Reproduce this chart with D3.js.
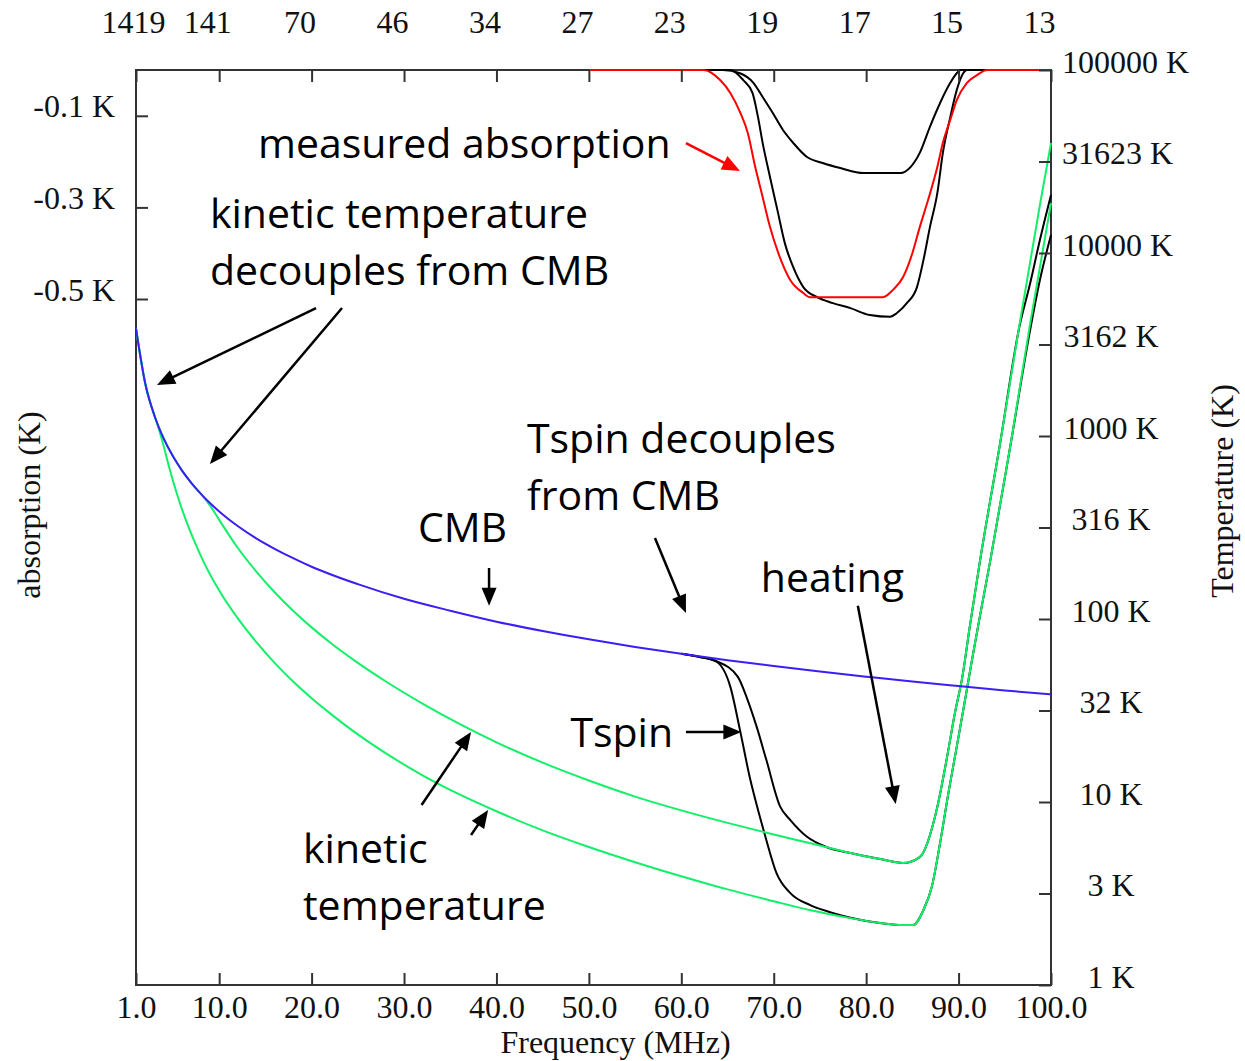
<!DOCTYPE html>
<html>
<head>
<meta charset="utf-8">
<script src="https://cdn.jsdelivr.net/npm/d3@7"></script>
<style>
  body { margin: 0; background: #fff; }
  svg { display: block; }
  .ax { font-family: "Liberation Serif", "Times New Roman", serif; font-size: 32px; fill: #111; }
  .note { font-family: "Open Sans", "Noto Sans", sans-serif; font-size: 41px; fill: #000; }
</style>
</head>
<body>
<svg id="chart" width="1245" height="1061"></svg>
<script>
// ---- axis ticks -------------------------------------------------------
const freqTicks = [1, 10, 20, 30, 40, 50, 60, 70, 80, 90, 100];
const redshiftLabels = ["1419", "141", "70", "46", "34", "27", "23", "19", "17", "15", "13"];
const absorptionTicks = [-0.1, -0.3, -0.5];
const tempTicks = [1, 3.1623, 10, 31.623, 100, 316.23, 1000, 3162.3, 10000, 31623, 100000];
const tempLabels = ["1 K", "3 K", "10 K", "32 K", "100 K", "316 K", "1000 K", "3162 K", "10000 K", "31623 K", "100000 K"];

// ---- CMB temperature (K) vs frequency (MHz) ---------------------------
const cmbFreq = [1, 2, 3, 4, 5, 6, 7, 8, 9, 10, 12, 14, 16, 18, 20, 25, 30, 35, 40, 45, 50, 55, 60, 65, 70, 75, 80, 85, 90, 95, 100];
const cmbTemp = [3870, 1935, 1290, 967, 774, 645, 553, 484, 430, 387, 322, 276, 242, 215, 193, 155, 129, 111, 96.7, 86, 77.4, 70.4, 64.5, 59.5, 55.3, 51.6, 48.4, 45.5, 43, 40.7, 38.7];

// ---- gas kinetic temperature, late decoupling ---------------------------
const kin1Freq = [1, 2, 3, 4, 5, 6, 7, 8, 9, 10, 12, 14, 16, 18, 20, 22, 25, 28, 32, 36, 40, 45, 50, 55, 60, 65, 70, 75, 78.3, 81.5, 84, 85.8, 87.7, 88.7, 89.6, 90.4, 91.2, 92.3, 94.5, 96.6, 98.8, 100];
const kin1Temp = [3870, 1935, 1290, 967, 774, 645, 553, 484, 418, 348, 245, 182, 140, 111, 90, 74.4, 57.6, 45.7, 34.5, 26.7, 21.2, 16.4, 13.1, 10.7, 9.0, 7.69, 6.65, 5.78, 5.26, 4.88, 4.64, 5.0, 9.4, 17, 30.6, 48, 90, 205, 916, 4090, 18300, 39900];

// ---- gas kinetic temperature, early decoupling --------------------------
const kin2Freq = [1, 2, 3, 3.5, 4, 4.6, 5.5, 6.4, 7.3, 8.2, 10, 12, 14, 16, 18, 20, 22, 25, 28, 32, 36, 40, 45, 50, 55, 60, 65, 70, 74, 78.3, 81.5, 83.5, 85.1, 86.2, 87.1, 88, 88.9, 89.8, 90.7, 91.45, 92.3, 93.5, 95.6, 97.7, 100];
const kin2Temp = [3870, 1935, 1290, 1080, 880, 670, 470, 347, 267, 211, 143, 101, 75, 57.6, 45.5, 36.9, 30.5, 23.4, 18.5, 14.0, 11.0, 8.9, 7.0, 5.68, 4.69, 3.93, 3.33, 2.87, 2.56, 2.32, 2.18, 2.13, 2.13, 2.57, 3.43, 5.97, 11.2, 20, 36.1, 59.7, 103, 218, 882, 3990, 18750];

// ---- spin temperature for each heating history ---------------------------
const spinAFreq = [60, 62, 63.8, 65.3, 66.35, 67.4, 68.5, 69.1, 70.3, 71.8, 73.9, 76.1, 78.3, 81.5, 83.5, 85.1, 86.2, 87.1, 88, 88.9, 89.8, 90.7, 91.45, 92.3, 93.5, 95.6, 97.7, 98.8, 100];
const spinATemp = [64.5, 62, 58.4, 42.7, 24.7, 13.7, 8.31, 6.46, 4.09, 3.18, 2.74, 2.5, 2.33, 2.18, 2.13, 2.13, 2.57, 3.43, 5.97, 11.2, 20, 36.1, 59.7, 103, 218, 882, 3700, 7120, 12540];
const spinBFreq = [60, 62, 63.8, 66.1, 67.1, 68.15, 69.2, 70.7, 71.8, 73.6, 75.7, 78.3, 81.5, 84, 85.8, 87.7, 88.7, 89.6, 90.4, 91.2, 92.3, 94.5, 96.6, 97.7, 98.8, 100];
const spinBTemp = [64.5, 62, 58.8, 48.4, 37, 25.8, 17, 9.43, 7.97, 6.46, 5.68, 5.26, 4.88, 4.64, 5.0, 9.4, 17, 30.6, 48, 90, 205, 916, 4000, 6680, 11780, 20750];

// ---- 21-cm absorption (K) -------------------------------------------------
const measFreq = [50, 62.4, 64.2, 65.3, 66.4, 67.2, 68, 68.7, 69.6, 70.5, 71.8, 73.2, 73.9, 81.8, 82.9, 84, 85, 85.8, 86.7, 87.7, 88.3, 89.1, 89.8, 90.9, 92, 93.1, 100];
const measAbs = [0, 0, -0.022, -0.05, -0.094, -0.138, -0.212, -0.269, -0.343, -0.4, -0.459, -0.487, -0.496, -0.496, -0.48, -0.452, -0.4, -0.343, -0.284, -0.212, -0.159, -0.109, -0.066, -0.028, -0.011, 0, 0];
const modelAFreq = [50, 64.5, 66.35, 67.8, 68.8, 69.9, 71, 72.1, 73.6, 75.3, 77.2, 79.7, 83.7, 84.8, 85.8, 86.9, 88, 89.1, 89.8, 90.2, 100];
const modelAAbs = [0, 0, -0.007, -0.028, -0.059, -0.094, -0.131, -0.159, -0.19, -0.203, -0.214, -0.225, -0.225, -0.212, -0.181, -0.124, -0.072, -0.028, -0.007, 0, 0];
const modelBFreq = [50, 65.3, 66.7, 67.7, 68.3, 68.8, 69.6, 70.4, 71.2, 72.1, 73.2, 74.7, 76.4, 78.3, 80.4, 82.6, 83.3, 84.4, 85.5, 86.2, 86.9, 87.7, 88.3, 89.1, 89.8, 90.5, 90.9, 100];
const modelBAbs = [0, 0, -0.022, -0.05, -0.103, -0.159, -0.234, -0.306, -0.378, -0.43, -0.474, -0.496, -0.509, -0.52, -0.535, -0.539, -0.531, -0.509, -0.474, -0.415, -0.343, -0.269, -0.181, -0.103, -0.044, -0.007, 0, 0];

// ---- callouts, placed in (MHz, K) --------------------------------------
const noteText = ["measured absorption", "kinetic temperature", "decouples from CMB", "Tspin decouples", "from CMB", "CMB", "heating", "Tspin", "kinetic", "temperature"];
const noteFreq = [14.2, 9.0, 9.0, 43.3, 43.3, 31.5, 68.6, 48.0, 19.07, 19.07];
const noteTemp = [33040, 13700, 6680, 807, 394, 264, 140, 20, 4.64, 2.27];

const arrowFrom = [[20.48, 5003], [23.29, 5003], [39.2, 190], [57.15, 277], [79.1, 118], [60.5, 24.1], [31.9, 9.63], [37.25, 6.6], [60.5, 39900]];
const arrowTo = [[3.27, 1901], [9.0, 703], [39.2, 118], [60.5, 108], [83.2, 9.75], [66.5, 24.1], [37.25, 24.1], [39.1, 9.04], [66.35, 28060]];
const arrowRed = [false, false, false, false, false, false, false, false, true];

// ---- layout --------------------------------------------------------------
const plot = { left: 136, right: 1051, top: 70, bottom: 985 };
const svg = d3.select("#chart");

const x = d3.scaleLinear().domain([1, 100]).range([plot.left, plot.right]);
const yT = d3.scaleLog().domain([1, 1e5]).range([plot.bottom, plot.top]);
const yA = d3.scaleLinear().domain([0, -0.5]).range([plot.top, plot.top + 229]);

const colors = { cmb: "#3b1ef5", kin: "#12f06a", spin: "#000", meas: "#ff0000", model: "#000", frame: "#333" };

// frame goes underneath so curves lying on the border stay visible
svg.append("rect")
  .attr("x", plot.left).attr("y", plot.top)
  .attr("width", plot.right - plot.left).attr("height", plot.bottom - plot.top)
  .attr("fill", "none").attr("stroke", colors.frame).attr("stroke-width", 2);

svg.append("defs").append("clipPath").attr("id", "plotClip")
  .append("rect").attr("x", plot.left).attr("y", plot.top - 1.5)
  .attr("width", plot.right - plot.left + 1).attr("height", plot.bottom - plot.top + 3);

const curves = svg.append("g").attr("clip-path", "url(#plotClip)");

function path(xs, ys, yScale, color, width) {
  const gen = d3.line()
    .x((d, i) => x(xs[i]))
    .y((d, i) => yScale(ys[i]))
    .curve(d3.curveMonotoneX);
  curves.append("path")
    .attr("d", gen(xs))
    .attr("fill", "none")
    .attr("stroke", color)
    .attr("stroke-width", width)
    .attr("stroke-linejoin", "round");
}

// absorption profiles (upper part, absorption axis)
path(modelAFreq, modelAAbs, yA, colors.model, 2);
path(modelBFreq, modelBAbs, yA, colors.model, 2);
path(measFreq, measAbs, yA, colors.meas, 2);

// temperatures (log axis)
path(spinAFreq, spinATemp, yT, colors.spin, 2);
path(spinBFreq, spinBTemp, yT, colors.spin, 2);
path(kin1Freq, kin1Temp, yT, colors.kin, 2);
path(kin2Freq, kin2Temp, yT, colors.kin, 2);
path(cmbFreq, cmbTemp, yT, colors.cmb, 2);

function styleAxis(g) {
  g.select(".domain").remove();
  g.selectAll(".tick line").attr("stroke", colors.frame).attr("stroke-width", 2);
  g.selectAll(".tick text").attr("class", "ax").attr("fill", null);
  g.attr("font-family", null).attr("font-size", null);
}

// bottom: frequency
svg.append("g")
  .attr("transform", `translate(0,${plot.bottom})`)
  .call(d3.axisBottom(x).tickValues(freqTicks).tickSize(-12).tickPadding(10).tickFormat(d => d.toFixed(1)))
  .call(styleAxis);

// top: redshift
svg.append("g")
  .attr("transform", `translate(0,${plot.top})`)
  .call(d3.axisTop(x).tickValues(freqTicks).tickSize(-12).tickPadding(37).tickFormat((d, i) => redshiftLabels[i]))
  .call(styleAxis)
  .call(g => g.selectAll(".tick text").attr("x", (d, i) => i === 0 ? -3 : -12));

// left: absorption
svg.append("g")
  .attr("transform", `translate(${plot.left},0)`)
  .call(d3.axisLeft(yA).tickValues(absorptionTicks).tickSize(-12).tickPadding(21).tickFormat(d => d.toFixed(1) + " K"))
  .call(styleAxis)
  .call(g => g.selectAll(".tick text").attr("dy", "1px"));

// right: temperature
const rightAxis = svg.append("g")
  .attr("transform", `translate(${plot.right},0)`)
  .call(d3.axisRight(yT).tickValues(tempTicks).tickSize(-12).tickFormat((d, i) => tempLabels[i]))
  .call(styleAxis);
rightAxis.selectAll(".tick text")
  .attr("dy", "2px")
  .attr("text-anchor", "start")
  .attr("x", function () {
    const w = this.getComputedTextLength();
    return Math.max(11, 60 - w / 2);
  });

// axis titles
svg.append("text").attr("class", "ax")
  .attr("x", (plot.left + plot.right) / 2 + 22).attr("y", 1053)
  .attr("text-anchor", "middle").text("Frequency (MHz)");
svg.append("text").attr("class", "ax")
  .attr("transform", "translate(40,505) rotate(-90)")
  .attr("text-anchor", "middle").text("absorption (K)");
svg.append("text").attr("class", "ax")
  .attr("transform", "translate(1233,491) rotate(-90)")
  .attr("text-anchor", "middle").text("Temperature (K)");

// callout text
const notes = svg.append("g");
noteText.forEach((t, i) => {
  notes.append("text").attr("class", "note")
    .attr("x", x(noteFreq[i])).attr("y", yT(noteTemp[i]))
    .text(t);
});

// callout arrows
function arrow(p, q, color) {
  const x1 = x(p[0]), y1 = yT(p[1]), x2 = x(q[0]), y2 = yT(q[1]);
  const dx = x2 - x1, dy = y2 - y1, len = Math.hypot(dx, dy);
  const ux = dx / len, uy = dy / len;
  const head = 18, half = 7.5;
  const bx = x2 - ux * head, by = y2 - uy * head;
  const g = svg.append("g");
  g.append("line").attr("x1", x1).attr("y1", y1).attr("x2", bx + ux * 2).attr("y2", by + uy * 2)
    .attr("stroke", color).attr("stroke-width", 2.5);
  g.append("path")
    .attr("d", `M${x2},${y2}L${bx - uy * half},${by + ux * half}L${bx + uy * half},${by - ux * half}Z`)
    .attr("fill", color);
}
arrowFrom.forEach((p, i) => arrow(p, arrowTo[i], arrowRed[i] ? "#ff0000" : "#000"));
</script>
</body>
</html>
